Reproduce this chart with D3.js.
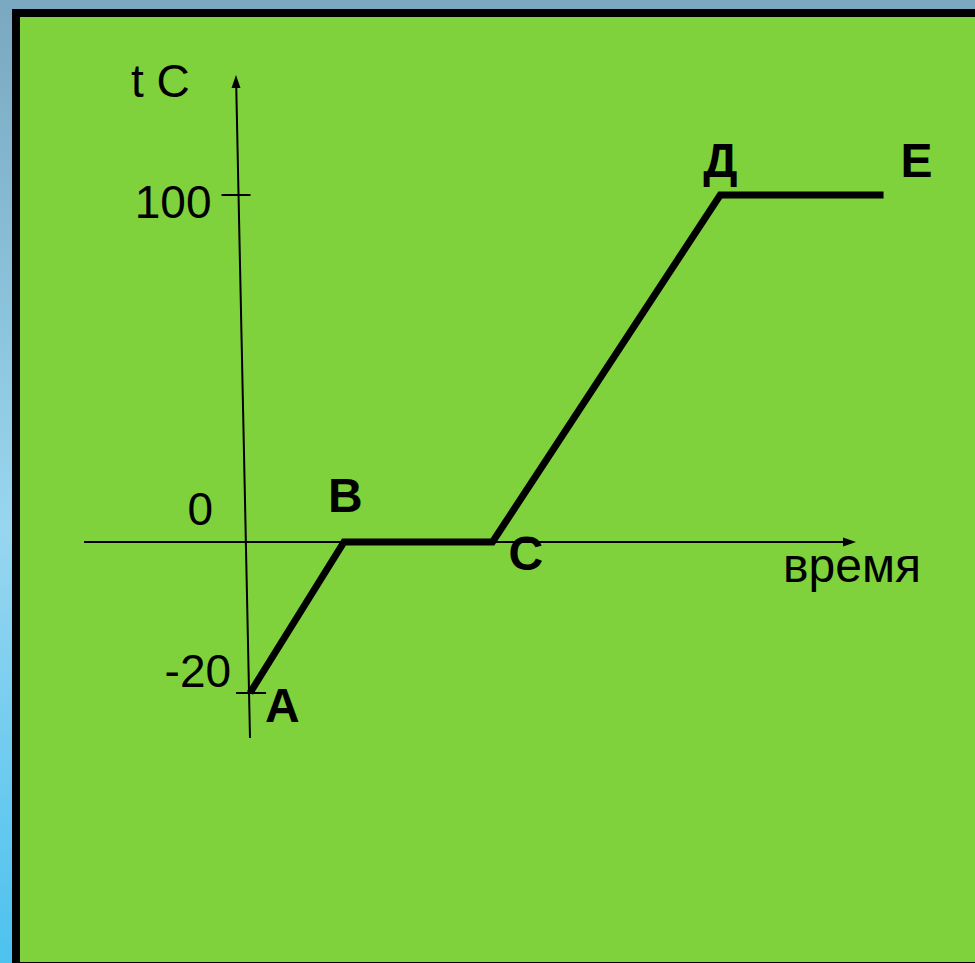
<!DOCTYPE html>
<html>
<head>
<meta charset="utf-8">
<script src="https://cdn.jsdelivr.net/npm/d3@7"></script>
<style>
  html, body { margin: 0; padding: 0; background: #7aa8c0; }
  svg { display: block; }
</style>
</head>
<body>
<div id="chart"></div>
<script>
// heating curve: time (arbitrary units) vs temperature
const pointNames = ['А', 'В', 'С', 'Д', 'Е'];
const timeValues = [0.05, 1, 2.5, 4.8, 6.45];
const tempValues = [-20, 0, 0, 100, 100];
const tickValues = [-20, 100];
const tickLabels = ['-20', '100'];

const width = 975;
const height = 963;
const font = '"Liberation Sans", Arial, sans-serif';

const svg = d3.select('#chart')
    .append('svg')
    .attr('width', width)
    .attr('height', height);

const defs = svg.append('defs');
const bg = defs.append('linearGradient')
    .attr('id', 'side')
    .attr('x1', 0).attr('y1', 0).attr('x2', 0).attr('y2', 1);
bg.append('stop').attr('offset', '0%').attr('stop-color', '#7aa8c0');
bg.append('stop').attr('offset', '55%').attr('stop-color', '#98d6ef');
bg.append('stop').attr('offset', '100%').attr('stop-color', '#4cc2ef');

svg.append('rect')
    .attr('width', width).attr('height', height)
    .attr('fill', 'url(#side)');
svg.append('rect')
    .attr('x', 16).attr('y', 13)
    .attr('width', 1000).attr('height', 953)
    .attr('fill', '#7fd23c')
    .attr('stroke', '#000')
    .attr('stroke-width', 8);

// schematic scales (the temperature axis is not uniform)
const x = d3.scaleLinear().domain([0, 1]).range([245, 344]);
const y = d3.scaleLinear().domain([-20, 0, 100]).range([693, 542, 195]);

// y axis is slightly tilted: x position as a function of screen y
const axisTop = 75, axisBottom = 738;
const axisX = d3.scaleLinear().domain([axisBottom, axisTop]).range([250, 236]);

const g = svg.append('g');

// x axis
g.append('line')
    .attr('x1', 84).attr('y1', y(0))
    .attr('x2', 845).attr('y2', y(0))
    .attr('stroke', '#000').attr('stroke-width', 2);
g.append('path')
    .attr('d', `M856,${y(0)} L843,${y(0) - 4.5} L843,${y(0) + 4.5} Z`)
    .attr('fill', '#000');

// y axis
g.append('line')
    .attr('x1', axisX(axisBottom)).attr('y1', axisBottom)
    .attr('x2', axisX(axisTop + 10)).attr('y2', axisTop + 10)
    .attr('stroke', '#000').attr('stroke-width', 2);
g.append('path')
    .attr('d', `M${axisX(axisTop)},${axisTop} L${axisX(axisTop) - 4.5},${axisTop + 13} L${axisX(axisTop) + 4.5},${axisTop + 13} Z`)
    .attr('fill', '#000');

const yAxis = d3.axisLeft(y)
    .tickValues(tickValues)
    .tickFormat((d, i) => tickLabels[i])
    .tickSize(15);

const yAxisG = g.append('g').call(yAxis);
yAxisG.select('.domain').remove();
yAxisG.selectAll('.tick')
    .attr('transform', d => `translate(${axisX(y(d))},${y(d)})`);
yAxisG.selectAll('.tick line')
    .attr('x1', d => d === 100 ? 12 : 17)
    .attr('x2', d => d === 100 ? -17 : -13)
    .attr('stroke', '#000')
    .attr('stroke-width', 2);
yAxisG.selectAll('.tick text')
    .attr('font-family', font)
    .attr('font-size', 46)
    .attr('fill', '#000')
    .attr('text-anchor', 'end')
    .attr('dy', null)
    .attr('x', d => d === 100 ? -27 : -18)
    .attr('y', d => d === 100 ? 23 : -6);

g.append('text')
    .attr('x', 213).attr('y', y(0) - 17)
    .attr('text-anchor', 'end')
    .attr('font-family', font).attr('font-size', 46)
    .text('0');

g.append('text')
    .attr('x', 131).attr('y', 97)
    .attr('font-family', font).attr('font-size', 46)
    .text('t C');

g.append('text')
    .attr('x', 783).attr('y', y(0) + 40)
    .attr('font-family', font).attr('font-size', 48)
    .text('время');

// curve
const data = timeValues.map((t, i) => ({ t, temp: tempValues[i], name: pointNames[i] }));
const line = d3.line()
    .x(d => x(d.t))
    .y(d => y(d.temp));

g.append('path')
    .datum(data)
    .attr('d', line)
    .attr('fill', 'none')
    .attr('stroke', '#000')
    .attr('stroke-width', 7)
    .attr('stroke-linejoin', 'miter');

// point labels
const labelOffset = {
    'А': [15, 29], 'В': [-16, -30], 'С': [16, 28], 'Д': [-17, -18], 'Е': [17, -18]
};
g.selectAll('text.point')
    .data(data)
    .enter()
    .append('text')
    .attr('class', 'point')
    .attr('x', d => x(d.t) + labelOffset[d.name][0])
    .attr('y', d => y(d.temp) + labelOffset[d.name][1])
    .attr('font-family', font)
    .attr('font-size', 48)
    .attr('font-weight', 'bold')
    .text(d => d.name);
</script>
</body>
</html>
